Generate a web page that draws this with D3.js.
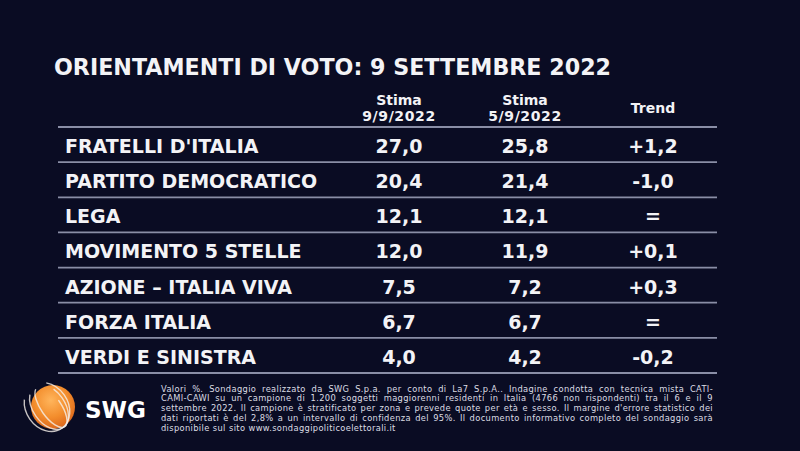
<!DOCTYPE html>
<html>
<head>
<meta charset="utf-8">
<script src="https://cdn.jsdelivr.net/npm/d3@7/dist/d3.min.js"></script>
<style>
  html, body { margin: 0; padding: 0; background: #0a0c23; }
  svg { display: block; }
</style>
</head>
<body>
<svg id="chart" width="800" height="451"></svg>
<script>
const title = "ORIENTAMENTI DI VOTO: 9 SETTEMBRE 2022";
const parties = ["FRATELLI D'ITALIA", "PARTITO DEMOCRATICO", "LEGA", "MOVIMENTO 5 STELLE", "AZIONE \u2013 ITALIA VIVA", "FORZA ITALIA", "VERDI E SINISTRA"];
const est9 = [27.0, 20.4, 12.1, 12.0, 7.5, 6.7, 4.0];
const est5 = [25.8, 21.4, 12.1, 11.9, 7.2, 6.7, 4.2];
const trend = ["+1,2", "-1,0", "=", "+0,1", "+0,3", "=", "-0,2"];
const columns = ["est9", "est5", "trend"];
const headerTop = ["Stima", "Stima", "Trend"];
const headerBottom = ["9/9/2022", "5/9/2022", ""];
const footLines = [
  "Valori %. Sondaggio realizzato da SWG S.p.a. per conto di La7 S.p.A.. Indagine condotta con tecnica mista CATI-",
  "CAMI-CAWI su un campione di 1.200 soggetti maggiorenni residenti in Italia (4766 non rispondenti) tra il 6 e il 9",
  "settembre 2022. Il campione è stratificato per zona e prevede quote per età e sesso. Il margine d'errore statistico dei",
  "dati riportati è del 2,8% a un intervallo di confidenza del 95%. Il documento informativo completo del sondaggio sarà",
  "disponibile sul sito www.sondaggipoliticoelettorali.it"
];

const fmt = d3.formatLocale({decimal: ",", thousands: ".", grouping: [3], currency: ["€", ""]}).format(".1f");

const svg = d3.select("#chart");
const W = 800, H = 451;
svg.append("rect").attr("width", W).attr("height", H).attr("fill", "#0a0c23");

const FONT = "'DejaVu Sans', Verdana, sans-serif";
const WHITE = "#f3f3f6";
const LINE = "#8a8ea6";

// title
svg.append("text").attr("x", 54).attr("y", 74.5)
  .attr("font-family", FONT).attr("font-weight", "bold").attr("font-size", 22.2)
  .attr("fill", WHITE).text(title);

// scales
const y = d3.scaleBand().domain(parties).range([127, 373]).padding(0);
const x = d3.scaleOrdinal().domain(columns).range([399, 525, 653]);
const left = 58, right = 717;

// header
const hdr = svg.append("g").attr("font-family", FONT).attr("font-weight", "bold")
  .attr("font-size", 14).attr("fill", WHITE).attr("text-anchor", "middle");
columns.forEach((c, i) => {
  if (headerBottom[i]) {
    hdr.append("text").attr("x", x(c)).attr("y", 105).text(headerTop[i]);
    hdr.append("text").attr("x", x(c)).attr("y", 121).attr("letter-spacing", 0.6).text(headerBottom[i]);
  } else {
    hdr.append("text").attr("x", x(c)).attr("y", 113).text(headerTop[i]);
  }
});

// horizontal lines
const lineYs = [y.range()[0]].concat(parties.map(p => y(p) + y.bandwidth()));
svg.append("g").selectAll("line").data(lineYs).join("line")
  .attr("x1", left).attr("x2", right)
  .attr("y1", d => d).attr("y2", d => d)
  .attr("stroke", LINE).attr("stroke-width", 1.8);

// rows
const rows = svg.append("g").attr("font-family", FONT).attr("font-weight", "bold")
  .attr("font-size", 19).attr("fill", WHITE)
  .selectAll("g").data(parties.map((p, i) => ({p, a: est9[i], b: est5[i], t: trend[i]})))
  .join("g").attr("transform", d => `translate(0,${y(d.p) + 26})`);
rows.append("text").attr("x", 65).text(d => d.p);
rows.append("text").attr("x", x("est9")).attr("text-anchor", "middle").text(d => fmt(d.a));
rows.append("text").attr("x", x("est5")).attr("text-anchor", "middle").text(d => fmt(d.b));
rows.append("text").attr("x", x("trend")).attr("text-anchor", "middle").text(d => d.t);

// footnote (justified, word by word)
const fx0 = 161, fx1 = 713, fy0 = 391.5, fdy = 9.9, fsize = 8.3, ls = 0.35;
const foot = svg.append("g").attr("font-family", FONT).attr("font-size", fsize)
  .attr("letter-spacing", ls).attr("fill", "#dcdce4");
footLines.forEach((ln, li) => {
  const words = ln.split(" ");
  const yy = fy0 + li * fdy;
  const nodes = words.map(w => foot.append("text").attr("y", yy).text(w));
  const widths = nodes.map(n => n.node().getComputedTextLength());
  const last = li === footLines.length - 1;
  const gap = last ? 3.2 : Math.max(1.5, (fx1 - fx0 - d3.sum(widths)) / (words.length - 1));
  let cx = fx0;
  nodes.forEach((n, j) => { n.attr("x", cx); cx += widths[j] + gap; });
});

// logo
const defs = svg.append("defs");
const grad = defs.append("radialGradient").attr("id", "orb").attr("cx", "45%").attr("cy", "35%").attr("r", "70%");
grad.append("stop").attr("offset", "0%").attr("stop-color", "#ffb55c");
grad.append("stop").attr("offset", "55%").attr("stop-color", "#f38d2c");
grad.append("stop").attr("offset", "100%").attr("stop-color", "#d9621a");
const logo = svg.append("g").attr("transform", "translate(53,407)");
logo.append("circle").attr("r", 22).attr("fill", "url(#orb)");
[[24, 10, -2], [25, 16, -4], [26, 21, -6]].forEach(([rx, ry, dx]) => {
  logo.append("ellipse").attr("rx", rx).attr("ry", ry)
    .attr("transform", `translate(${dx},0) rotate(55)`)
    .attr("fill", "none").attr("stroke", "#f6f0ea").attr("stroke-width", 1.4)
    .attr("stroke-opacity", 0.8)
    .attr("stroke-dasharray", `${rx * 2.6} ${rx * 1.2}`)
    .attr("stroke-dashoffset", rx * 0.4);
});
svg.append("text").attr("x", 85).attr("y", 418)
  .attr("font-family", FONT).attr("font-weight", "bold").attr("font-size", 23)
  .attr("textLength", 61).attr("lengthAdjust", "spacingAndGlyphs")
  .attr("fill", "#ffffff").text("SWG");
</script>
</body>
</html>
